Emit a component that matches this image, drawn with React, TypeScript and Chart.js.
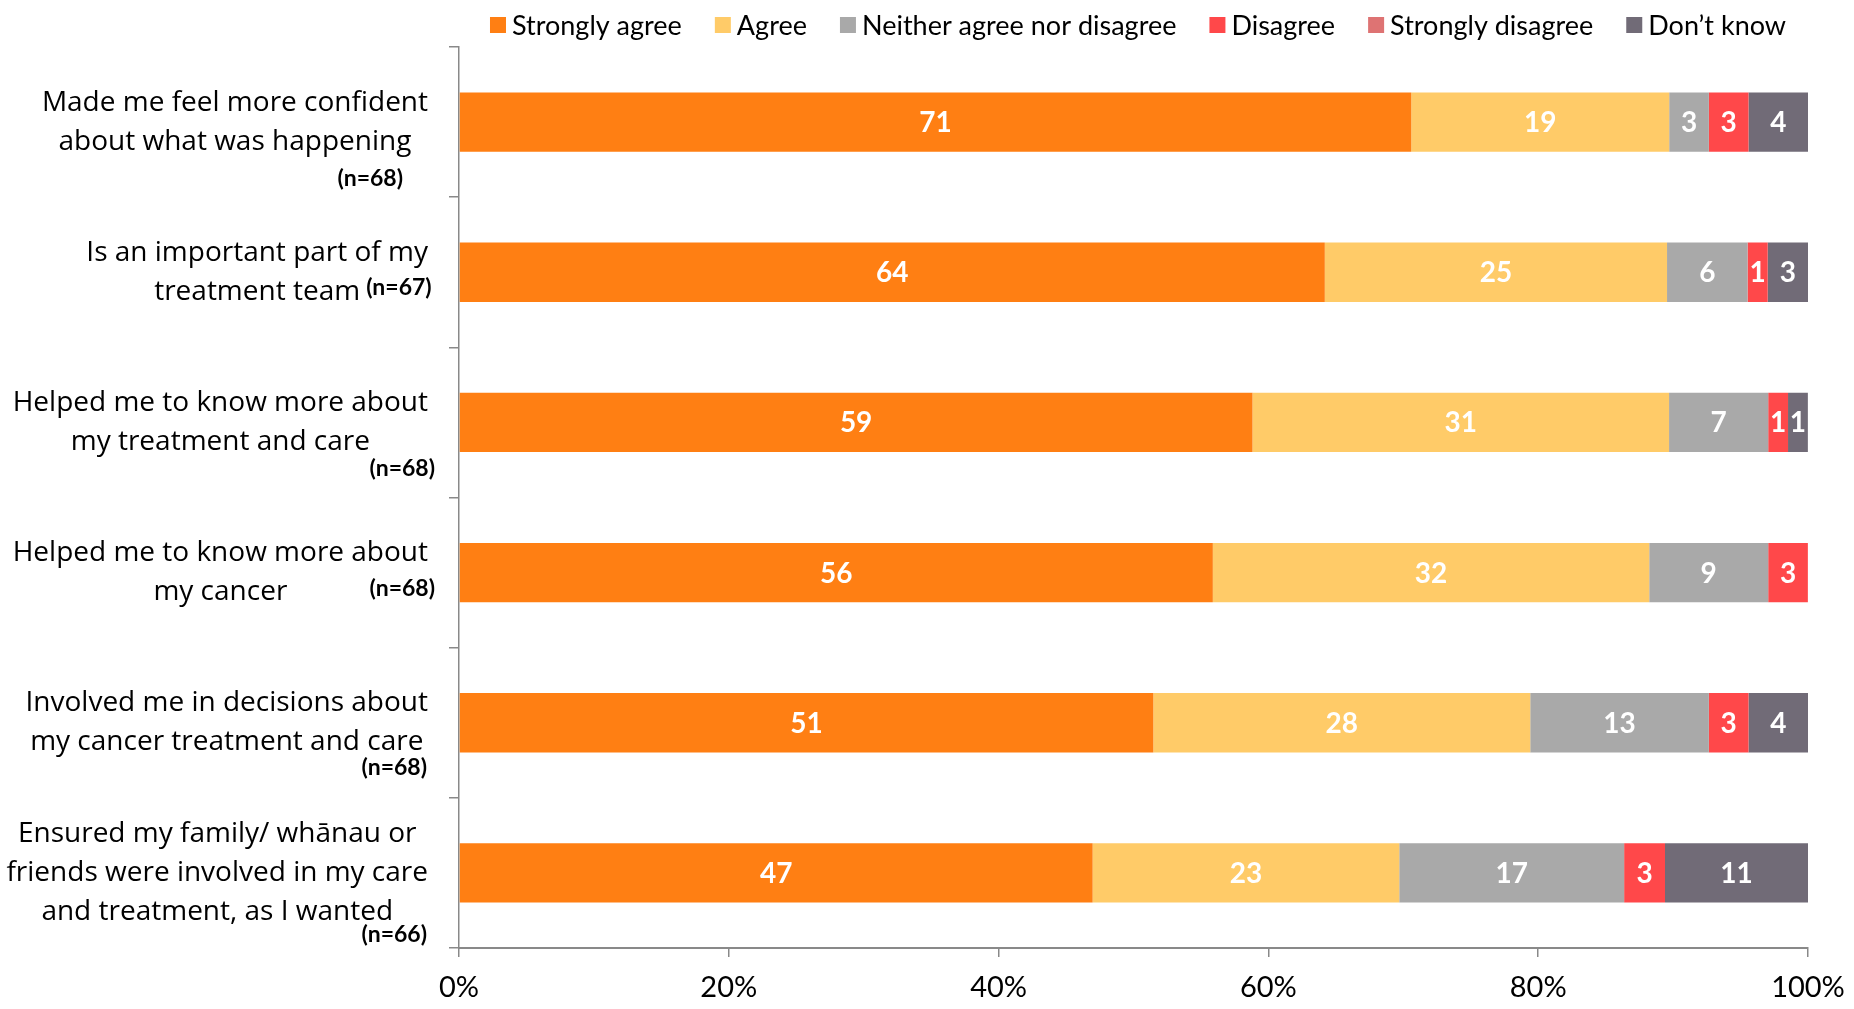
import React, { useEffect, useRef } from "react";
import { Chart, registerables } from "chart.js";

Chart.register(...registerables);

// ---------- DATA ----------
const categoryLines: string[][] = [
  ["Made me feel more confident", "about what was happening"],
  ["Is an important part of my", "treatment team"],
  ["Helped me to know more about", "my treatment and care"],
  ["Helped me to know more about", "my cancer"],
  ["Involved me in decisions about", "my cancer treatment and care"],
  ["Ensured my family/ whānau or", "friends were involved in my care", "and treatment, as I wanted"],
];
const sampleSizes = [68, 67, 68, 68, 68, 66];

const seriesNames = [
  "Strongly agree",
  "Agree",
  "Neither agree nor disagree",
  "Disagree",
  "Strongly disagree",
  "Don’t know",
];
const stronglyAgree = [70.59, 64.18, 58.82, 55.88, 51.47, 46.97];
const agree = [19.12, 25.37, 30.88, 32.35, 27.94, 22.73];
const neither = [2.94, 5.97, 7.35, 8.82, 13.24, 16.67];
const disagree = [2.94, 1.49, 1.47, 2.94, 2.94, 3.03];
const stronglyDisagree = [0, 0, 0, 0, 0, 0];
const dontKnow = [4.41, 2.99, 1.47, 0, 4.41, 10.61];

const xTickValues = [0, 20, 40, 60, 80, 100];

// ---------- STYLE ----------
const seriesColors = ["#FF7F13", "#FFCB68", "#A9A9A9", "#FF484A", "#DE7373", "#716B77"];
const AXIS_COLOR = "#898989";
const LABEL_FONT = '"Open Sans"';
const CAL_FONT = "Lato";

// placement of the "(n=..)" note, relative to each category's centre
const nPlacement = [
  { mode: "below", dy: 56, right: 403 },
  { mode: "inline", dy: 15, right: 0 },
  { mode: "below", dy: 46, right: 435 },
  { mode: "below", dy: 16, right: 435 },
  { mode: "below", dy: 45, right: 427 },
  { mode: "below", dy: 62, right: 427 },
];

const yLabelPlugin = {
  id: "yLabels",
  afterDraw(chart: any) {
    const ctx = chart.ctx;
    const yScale = chart.scales.y;
    const blockRight = chart.chartArea.left - 31;
    const lineGap = 39;
    ctx.save();
    ctx.fillStyle = "#000";
    ctx.textBaseline = "middle";
    categoryLines.forEach((lines, i) => {
      const yc = yScale.getPixelForValue(i);
      ctx.font = `28px ${LABEL_FONT}`;
      const widths = lines.map((l) => ctx.measureText(l).width);
      const maxW = Math.max(...widths);
      const cx = blockRight - maxW / 2;
      ctx.textAlign = "center";
      const startY = yc - ((lines.length - 1) * lineGap) / 2;
      lines.forEach((l, k) => ctx.fillText(l, cx, startY + k * lineGap));
      const p = nPlacement[i];
      const nText = `(n=${sampleSizes[i]})`;
      ctx.font = `bold 23px ${CAL_FONT}`;
      if (p.mode === "inline") {
        const lastW = widths[widths.length - 1];
        ctx.textAlign = "left";
        ctx.fillText(nText, cx + lastW / 2 + 6, yc + p.dy);
      } else {
        ctx.textAlign = "right";
        ctx.fillText(nText, p.right, yc + p.dy);
      }
    });
    ctx.restore();
  },
};

const legendPlugin = {
  id: "customLegend",
  afterDraw(chart: any) {
    const ctx = chart.ctx;
    ctx.save();
    ctx.font = `27px ${CAL_FONT}`;
    ctx.textBaseline = "middle";
    ctx.textAlign = "left";
    const box = 16;
    const gapBT = 6;
    const gapItem = 33;
    const ds = chart.data.datasets;
    const widths = ds.map((d: any) => ctx.measureText(d.label).width);
    const total =
      widths.reduce((a: number, w: number) => a + box + gapBT + w, 0) + gapItem * (ds.length - 1);
    let x = 1138 - total / 2;
    const y = 25;
    ds.forEach((d: any, i: number) => {
      ctx.fillStyle = d.backgroundColor;
      ctx.fillRect(x, y - box / 2, box, box);
      ctx.fillStyle = "#000";
      ctx.fillText(d.label, x + box + gapBT, y + 1);
      x += box + gapBT + widths[i] + gapItem;
    });
    ctx.restore();
  },
};

const dataLabelPlugin = {
  id: "dataLabels",
  afterDatasetsDraw(chart: any) {
    const ctx = chart.ctx;
    ctx.save();
    ctx.font = `bold 28px ${CAL_FONT}`;
    ctx.fillStyle = "#fff";
    ctx.textAlign = "center";
    ctx.textBaseline = "middle";
    chart.data.datasets.forEach((d: any, di: number) => {
      const meta = chart.getDatasetMeta(di);
      meta.data.forEach((el: any, i: number) => {
        const v = d.data[i];
        if (!v) return;
        const { x, base, y } = el.getProps(["x", "base", "y"], true);
        ctx.fillText(String(Math.round(v)), (x + base) / 2, y + 1);
      });
    });
    ctx.restore();
  },
};

export default function App() {
  const ref = useRef<HTMLCanvasElement | null>(null);

  useEffect(() => {
    document.body.style.margin = "0";
    let chart: Chart | null = null;
    let cancelled = false;
    const fontsReady = Promise.all([
      document.fonts.load(`28px ${LABEL_FONT}`, "Ab"),
      document.fonts.load(`27px ${CAL_FONT}`, "Ab"),
      document.fonts.load(`bold 26px ${CAL_FONT}`, "Ab"),
    ]).catch(() => null);

    fontsReady.then(() => {
      if (cancelled || !ref.current) return;
      const series = [stronglyAgree, agree, neither, disagree, stronglyDisagree, dontKnow];
      chart = new Chart(ref.current, {
        type: "bar",
        data: {
          labels: categoryLines.map((l) => l.join(" ")),
          datasets: series.map((vals, i) => ({
            label: seriesNames[i],
            data: vals,
            backgroundColor: seriesColors[i],
            borderWidth: 0,
            barPercentage: 0.395,
            categoryPercentage: 1,
          })),
        },
        options: {
          indexAxis: "y",
          animation: false,
          responsive: false,
          events: [],
          layout: { padding: { top: 47, right: 46, bottom: 0, left: 0 } },
          plugins: {
            legend: { display: false },
            tooltip: { enabled: false },
            title: { display: false },
          },
          scales: {
            x: {
              type: "linear",
              stacked: true,
              min: 0,
              max: 100,
              afterBuildTicks: (scale: any) => {
                scale.ticks = xTickValues.map((v) => ({ value: v }));
              },
              afterFit: (scale: any) => {
                scale.height = 61;
                scale.paddingLeft = 0;
                scale.paddingRight = 0;
              },
              ticks: {
                callback: (v: any) => `${v}%`,
                color: "#000",
                font: { family: CAL_FONT, size: 29 },
                padding: 13,
                maxRotation: 0,
              },
              grid: {
                drawOnChartArea: false,
                drawTicks: true,
                tickLength: 9,
                color: AXIS_COLOR,
                lineWidth: 1.5,
              },
              border: { display: true, color: AXIS_COLOR, width: 2 },
            },
            y: {
              type: "category",
              stacked: true,
              afterFit: (scale: any) => {
                scale.width = 459;
                scale.paddingTop = 0;
                scale.paddingBottom = 0;
              },
              ticks: { display: false },
              grid: {
                offset: true,
                drawOnChartArea: false,
                drawTicks: true,
                tickLength: 10,
                color: AXIS_COLOR,
                lineWidth: 1.5,
              },
              border: { display: true, color: AXIS_COLOR, width: 1.5 },
            },
          },
        },
        plugins: [dataLabelPlugin, yLabelPlugin, legendPlugin],
      } as any);
    });

    return () => {
      cancelled = true;
      if (chart) chart.destroy();
    };
  }, []);

  return (
    <div style={{ position: "fixed", left: 0, top: 0, width: 1854, height: 1009, background: "#fff" }}>
      <canvas ref={ref} width={1854} height={1009} style={{ display: "block", width: 1854, height: 1009 }} />
    </div>
  );
}
